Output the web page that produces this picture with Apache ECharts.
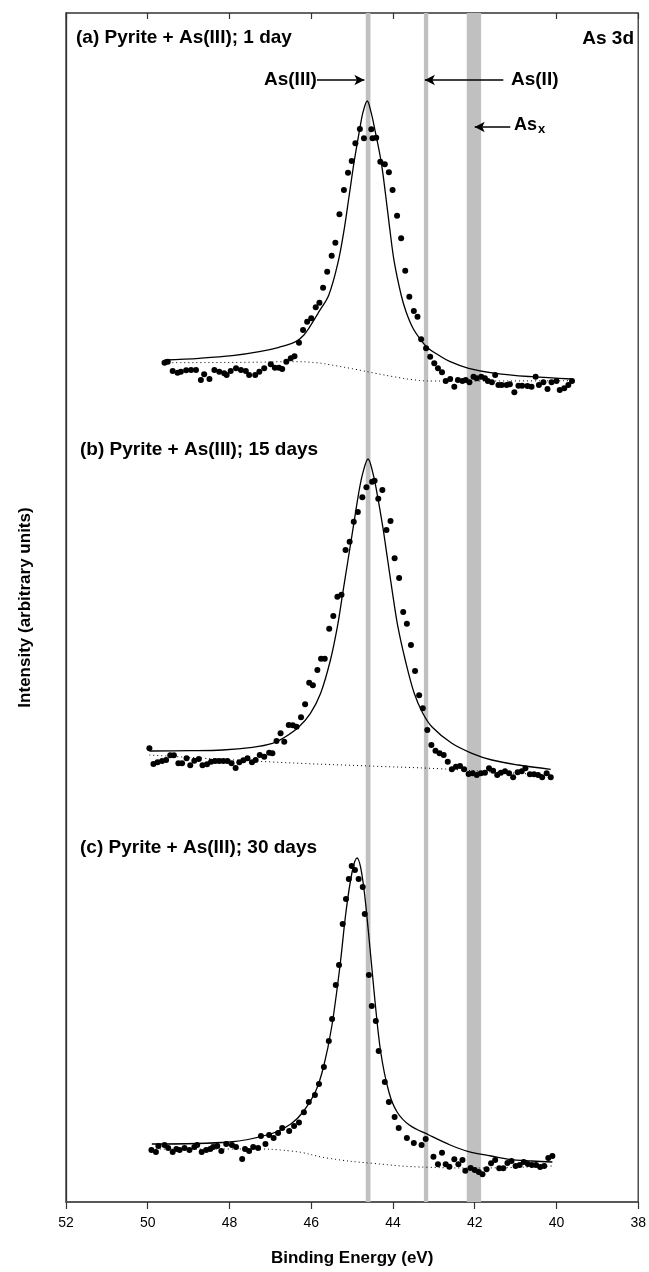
<!DOCTYPE html>
<html><head><meta charset="utf-8">
<script src="https://cdn.jsdelivr.net/npm/echarts@6/dist/echarts.min.js"></script>
<style>html,body{margin:0;padding:0;background:#fff}#c{width:649px;height:1272px}</style>
</head><body><div id="c"></div>
<script>
// ---- Panel (a) 1 day: measured points ----
const energyA = [49.59,49.51,49.39,49.27,49.19,49.06,48.94,48.82,48.70,48.62,48.49,48.37,48.25,48.13,48.07,47.97,47.84,47.72,47.60,47.52,47.37,47.27,47.15,46.99,46.89,46.79,46.71,46.61,46.50,46.41,46.30,46.20,46.10,46.00,45.89,45.80,45.71,45.61,45.50,45.41,45.31,45.20,45.10,45.01,44.92,44.81,44.71,44.53,44.50,44.41,44.31,44.20,44.10,44.01,43.90,43.80,43.70,43.60,43.49,43.40,43.31,43.19,43.09,42.99,42.90,42.80,42.71,42.60,42.50,42.41,42.30,42.22,42.13,42.03,41.95,41.84,41.75,41.68,41.58,41.50,41.42,41.34,41.22,41.14,41.03,40.93,40.84,40.71,40.61,40.51,40.43,40.32,40.22,40.12,40.00,39.92,39.81,39.71,39.62];
const intensityA = [83.93,84.03,83.1,82.93,83.03,83.17,83.2,83.2,82.2,82.77,82.3,83.2,83.03,82.87,82.7,83.1,83.37,83.2,83.1,82.7,82.7,83.03,83.37,83.77,83.43,83.43,83.3,84.03,84.37,84.57,85.93,87.2,88.03,88.37,89.47,89.93,91.43,93.03,94.63,95.93,98.77,101.2,102.93,104.1,105.87,107.3,106.37,107.27,106.37,106.43,104.03,103.77,102.97,101.2,98.63,96.37,93.13,90.53,89.1,88.53,86.27,85.37,84.53,83.87,83.37,82.97,82.1,82.3,81.53,82.2,82.1,82.2,81.97,82.53,82.37,82.53,82.37,82.1,81.97,82.7,81.7,81.7,81.7,81.77,80.97,81.63,81.63,81.6,81.53,82.53,81.7,81.97,81.3,81.97,82.1,81.2,81.37,81.7,82.1];
const fitEnergyA = [49.59,48.74,47.93,47.27,46.79,46.38,46.18,46.06,45.81,45.57,45.34,45.19,45.07,44.95,44.81,44.73,44.63,44.54,44.45,44.29,44.18,44.08,43.97,43.80,43.68,43.51,43.33,43.14,42.89,42.60,42.15,41.50,40.61,39.63];
const fitIntensityA = [84.2,84.37,84.63,85.03,85.47,86.03,86.7,87.37,89.03,90.7,94.03,97.37,100.7,104.03,107.37,109.03,110.1,109.03,107.37,104.03,100.7,97.37,94.03,90.7,89.03,87.37,86.27,85.37,84.7,84.03,83.37,82.87,82.53,82.3];
const bgEnergyA = [49.59,47.52,46.46,45.89,45.41,44.92,44.43,43.94,43.45,43.05,41.83,39.63];
const bgIntensityA = [83.93,83.97,84.03,83.93,83.63,83.27,82.87,82.5,82.2,82.1,82.1,82.13];

// ---- Panel (b) 15 days ----
const energyB = [49.96,49.86,49.76,49.65,49.55,49.45,49.36,49.25,49.16,49.05,48.96,48.86,48.75,48.66,48.55,48.45,48.35,48.25,48.15,48.05,47.95,47.85,47.76,47.66,47.56,47.45,47.36,47.26,47.15,47.03,46.95,46.85,46.75,46.66,46.55,46.45,46.36,46.25,46.15,46.05,45.96,45.85,45.76,45.67,45.56,45.46,45.36,45.26,45.16,45.06,44.96,44.86,44.75,44.65,44.51,44.45,44.36,44.26,44.16,44.06,43.96,43.85,43.75,43.66,43.56,43.46,43.36,43.27,43.16,43.06,42.96,42.86,42.76,42.66,42.56,42.46,42.36,42.26,42.15,42.05,41.95,41.85,41.75,41.65,41.55,41.45,41.36,41.26,41.16,41.06,40.95,40.85,40.76,40.65,40.55,40.45,40.35,40.24,40.14];
const intensityB = [45.37,43.8,43.97,44.1,44.2,44.67,44.67,43.87,43.87,44.37,43.67,44.13,44.3,43.67,43.77,44.03,44.1,44.1,44.1,44.1,43.87,43.4,43.97,44.17,44.37,43.97,44.2,44.7,44.53,44.93,44.87,46.1,46.87,46.03,47.7,47.67,47.53,48.47,49.77,51.93,51.67,53.2,54.33,54.33,57.33,58.6,60.53,60.73,65.2,66.03,68.03,69.0,70.47,71.47,72.03,72.13,70.33,71.2,67.2,68.1,64.37,62.4,59.0,57.83,55.7,53.1,50.67,49.37,47.2,45.7,45.13,44.87,44.7,44.03,43.27,43.53,43.6,43.27,42.8,42.87,42.7,42.87,42.93,43.37,43.13,42.7,42.93,43.07,42.87,42.47,42.97,43.07,43.37,42.77,42.77,42.7,42.47,42.87,42.47];
const fitEnergyB = [49.96,48.98,48.17,47.44,46.95,46.63,46.30,46.02,45.77,45.53,45.36,45.23,45.10,44.97,44.84,44.74,44.61,44.49,44.39,44.25,44.13,44.01,43.88,43.70,43.48,43.27,43.05,42.56,42.07,41.58,40.93,40.14];
const fitIntensityB = [45.1,45.13,45.2,45.47,45.87,46.53,47.53,48.87,50.87,54.2,57.53,60.87,64.2,67.53,70.87,72.87,74.3,72.87,70.87,67.53,64.2,60.87,57.53,54.2,50.87,48.87,47.53,45.87,44.87,44.2,43.7,43.27];
const bgEnergyB = [49.96,46.95,44.59,42.88,41.66,40.14];
const bgIntensityB = [44.7,44.0,43.6,43.33,43.03,42.7];

// ---- Panel (c) 30 days ----
const energyC = [49.91,49.80,49.74,49.59,49.50,49.39,49.30,49.22,49.10,48.98,48.86,48.79,48.68,48.57,48.47,48.40,48.30,48.20,48.08,47.94,47.84,47.69,47.62,47.52,47.42,47.30,47.23,47.12,47.03,46.92,46.81,46.71,46.54,46.42,46.30,46.18,46.06,45.91,45.81,45.69,45.57,45.49,45.40,45.32,45.23,45.15,45.08,45.01,44.93,44.84,44.74,44.69,44.59,44.52,44.42,44.35,44.20,44.10,43.96,43.86,43.66,43.49,43.30,43.20,43.01,42.90,42.80,42.71,42.62,42.50,42.40,42.30,42.23,42.10,42.00,41.90,41.81,41.71,41.60,41.50,41.40,41.30,41.20,41.10,41.00,40.90,40.80,40.70,40.60,40.50,40.40,40.30,40.20,40.10];
const intensityC = [5.2,5.0,5.6,5.7,5.4,5.0,5.3,5.2,5.4,5.2,5.5,5.7,5.0,5.2,5.3,5.5,5.6,5.1,5.8,5.7,5.5,4.3,5.3,5.1,5.5,5.4,6.6,5.8,6.7,6.4,6.9,7.4,7.1,7.6,7.95,8.97,10.0,10.7,11.8,13.5,16.1,18.3,21.7,23.7,27.8,30.3,32.3,33.6,33.2,32.3,31.5,28.8,22.7,19.6,18.1,15.1,12.0,10.0,8.5,7.4,6.4,5.9,5.7,6.3,4.53,3.77,4.93,3.77,3.53,4.27,3.77,4.2,3.13,3.4,3.2,3.0,2.77,3.27,3.87,4.2,3.37,3.37,3.9,4.1,3.6,3.7,4.0,3.8,3.7,3.7,3.5,3.6,4.4,4.6];
const fitEnergyC = [49.9,48.0,47.0,46.5,46.2,45.9,45.7,45.5,45.3,45.15,45.0,44.88,44.75,44.6,44.45,44.3,44.1,43.9,43.6,43.12,42.6,42.15,41.6,41.17,40.6,40.1];
const fitIntensityC = [5.8,6.0,6.8,7.8,9.0,11.0,13.5,17.5,23.5,29.0,33.0,34.4,32.5,27.0,20.5,15.0,11.0,9.0,7.7,6.7,5.7,5.03,4.6,4.27,4.1,4.0];
const bgEnergyC = [49.9,47.5,46.5,45.57,44.51,43.12,42.0,40.1];
const bgIntensityC = [5.3,5.3,5.1,4.37,3.87,3.47,3.4,3.6];

// Reference bands (eV) and tick labels
const bandRanges = [[44.666,44.551],[43.244,43.137],[42.195,41.844]];
const xTicks = [52,50,48,46,44,42,40,38];

function zip(a,b){return a.map((v,i)=>[v,b[i]]);}
const FONT = '"Liberation Sans", Arial, sans-serif';
const chart = echarts.init(document.getElementById('c'),null,{renderer:'canvas'});

function scat(e,i){return {type:'scatter',data:zip(e,i),symbol:'circle',symbolSize:6,itemStyle:{color:'#000',opacity:1},z:5,silent:true};}
function fit(e,i){return {type:'line',data:zip(e,i),smooth:0.35,showSymbol:false,lineStyle:{color:'#000',width:1.3},z:4,silent:true};}
function bg(e,i){return {type:'line',data:zip(e,i),smooth:0.5,showSymbol:false,lineStyle:{color:'#000',width:1,type:[1,3]},z:3,silent:true};}

const option = {
  animation:false,
  grid:{left:66,right:9,top:13,bottom:70,show:true,borderColor:'#333',borderWidth:1.3,backgroundColor:'transparent'},
  xAxis:[{
    type:'value',min:38,max:52,interval:2,inverse:true,position:'bottom',
    axisLine:{show:true,lineStyle:{color:'#555',width:1.5}},
    axisTick:{show:true,length:7,lineStyle:{color:'#333',width:1.2}},
    axisLabel:{color:'#000',fontSize:14,fontFamily:FONT,margin:14,formatter:v=>xTicks.includes(v)?String(v):''},
    splitLine:{show:false},
    name:'Binding Energy (eV)',nameLocation:'middle',nameGap:48,
    nameTextStyle:{color:'#000',fontSize:17,fontWeight:'bold',fontFamily:FONT}
  },{
    type:'value',min:38,max:52,interval:2,inverse:true,position:'top',
    axisLine:{show:false},axisTick:{show:true,inside:true,length:6,lineStyle:{color:'#333',width:1.2}},
    axisLabel:{show:false},splitLine:{show:false}
  }],
  yAxis:{type:'value',min:0,max:118.9,axisLine:{show:true,lineStyle:{color:'#333',width:1.3}},axisTick:{show:false},axisLabel:{show:false},splitLine:{show:false},
    name:'Intensity (arbitrary units)',nameLocation:'middle',nameGap:32,
    nameTextStyle:{color:'#000',fontSize:17,fontWeight:'bold',fontFamily:FONT}},
  series:[
    {type:'line',data:[],markArea:{silent:true,itemStyle:{color:'#c0c0c0'},data:bandRanges.map(r=>[{xAxis:r[0]},{xAxis:r[1]}])},z:1},
    {type:'line',data:[],z:6,markLine:{silent:true,symbol:['none','arrow'],symbolSize:[8,10],
      lineStyle:{color:'#000',width:1.6,type:'solid'},label:{show:false},
      data:[
        [{coord:[45.86,112.2]},{coord:[44.70,112.2]}],
        [{coord:[41.30,112.2]},{coord:[43.22,112.2]}],
        [{coord:[41.13,107.5]},{coord:[42.00,107.5]}]
      ]}},
    scat(energyA,intensityA),fit(fitEnergyA,fitIntensityA),bg(bgEnergyA,bgIntensityA),
    scat(energyB,intensityB),fit(fitEnergyB,fitIntensityB),bg(bgEnergyB,bgIntensityB),
    scat(energyC,intensityC),fit(fitEnergyC,fitIntensityC),bg(bgEnergyC,bgIntensityC)
  ],
  graphic:[
    {type:'text',left:76,top:28,style:{text:'(a) Pyrite + As(III); 1 day',font:'bold 19px '+FONT,fill:'#000'}},
    {type:'text',right:15,top:29,style:{text:'As 3d',font:'bold 19px '+FONT,fill:'#000'}},
    {type:'text',left:264,top:70,style:{text:'As(III)',font:'bold 19px '+FONT,fill:'#000'}},
    {type:'text',left:511,top:70,style:{text:'As(II)',font:'bold 19px '+FONT,fill:'#000'}},
    {type:'text',left:514,top:116,style:{text:'{a|As}{b|x}',rich:{a:{font:'bold 18px '+FONT,fill:'#000'},b:{font:'bold 13px '+FONT,fill:'#000',padding:[9,0,0,1]}}}},
    {type:'text',left:80,top:440,style:{text:'(b) Pyrite + As(III); 15 days',font:'bold 19px '+FONT,fill:'#000'}},
    {type:'text',left:80,top:838,style:{text:'(c) Pyrite + As(III); 30 days',font:'bold 19px '+FONT,fill:'#000'}}
  ]
};
chart.setOption(option);
</script></body></html>
